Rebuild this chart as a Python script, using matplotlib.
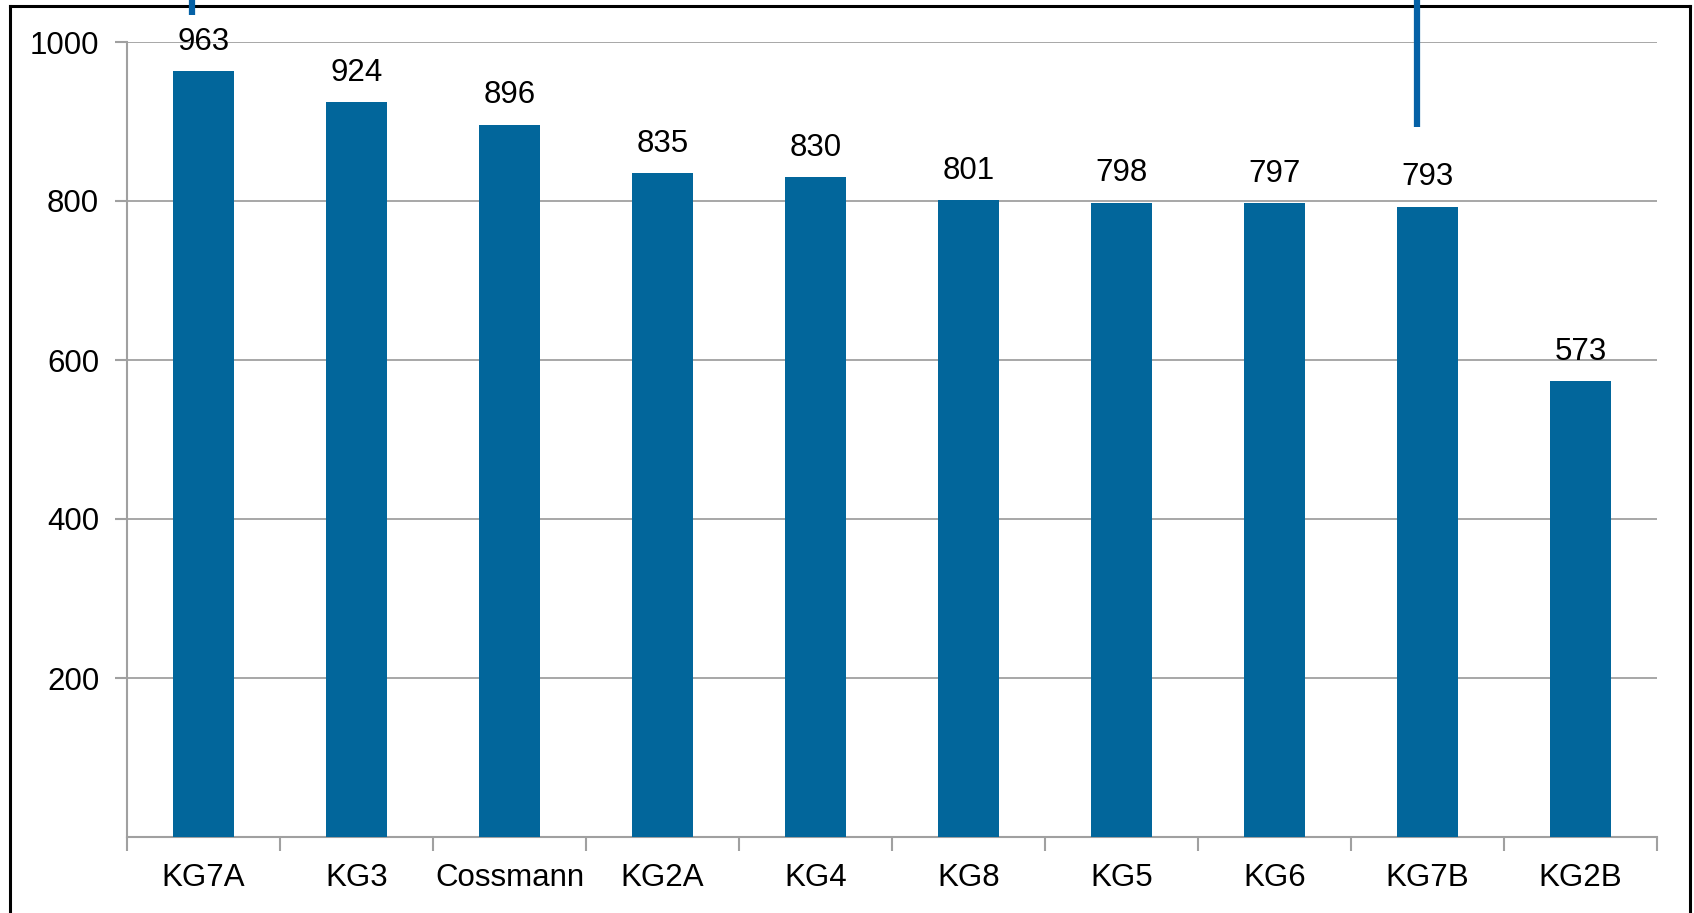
import matplotlib.pyplot as plt
from matplotlib.lines import Line2D

# sample names and values
categories = ["KG7A", "KG3", "Cossmann", "KG2A", "KG4", "KG8", "KG5", "KG6", "KG7B", "KG2B"]
values = [963, 924, 896, 835, 830, 801, 798, 797, 793, 573]
y_ticks = [200, 400, 600, 800, 1000]

plt.rcParams['font.family'] = ['Liberation Sans', 'DejaVu Sans']

W, H = 1694, 913
fig = plt.figure(figsize=(W / 100, H / 100), dpi=100)
ax = fig.add_axes([127 / W, 1 - 837 / H, (1657 - 127) / W, (837 - 42) / H])

x = range(len(categories))
bars = ax.bar(x, values, width=0.4, color='#02669b', zorder=3)

for xi, v in zip(x, values):
    ax.annotate(str(v), (xi, v), xytext=(0, 10.5), textcoords='offset points',
                ha='center', va='bottom', fontsize=22.5)

ax.set_xlim(-0.5, len(categories) - 0.5)
ax.set_ylim(0, 1000)
ax.set_yticks(y_ticks)
ax.set_yticklabels([str(t) for t in y_ticks], fontsize=22.5)
ax.set_xticks([i - 0.5 for i in range(len(categories) + 1)], minor=False)
ax.set_xticklabels([])
ax.set_xticks(list(x), minor=True)
ax.set_xticklabels(categories, minor=True, fontsize=22.5)
ax.tick_params(axis='x', which='minor', length=0, pad=19)
ax.tick_params(axis='x', which='major', length=10, color='#a0a0a0', width=1.5)
ax.tick_params(axis='y', length=9, color='#a0a0a0', width=1.5, pad=11)

ax.grid(axis='y', color='#a0a0a0', linewidth=1.3, zorder=0)
for s in ['top', 'right']:
    ax.spines[s].set_visible(False)
for s in ['left', 'bottom']:
    ax.spines[s].set_color('#a0a0a0')
    ax.spines[s].set_linewidth(1.5)

# black frame around the chart (bottom edge is cut off)
frame_kw = dict(color='black', linewidth=2.2, transform=fig.transFigure)
fig.add_artist(Line2D([10 / W, 10 / W], [0, 1 - 6 / H], **frame_kw))
fig.add_artist(Line2D([10 / W, 1690 / W], [1 - 6 / H, 1 - 6 / H], **frame_kw))
fig.add_artist(Line2D([1690 / W, 1690 / W], [0, 1 - 6 / H], **frame_kw))

# blue connector lines entering from the top
blue_kw = dict(color='#0561a6', linewidth=4.5, transform=fig.transFigure, solid_capstyle='butt')
fig.add_artist(Line2D([192 / W, 192 / W], [1, 1 - 15 / H], **blue_kw))
fig.add_artist(Line2D([1417 / W, 1417 / W], [1, 1 - 127 / H], **blue_kw))

fig.savefig('out.png', dpi=100, facecolor='white')
